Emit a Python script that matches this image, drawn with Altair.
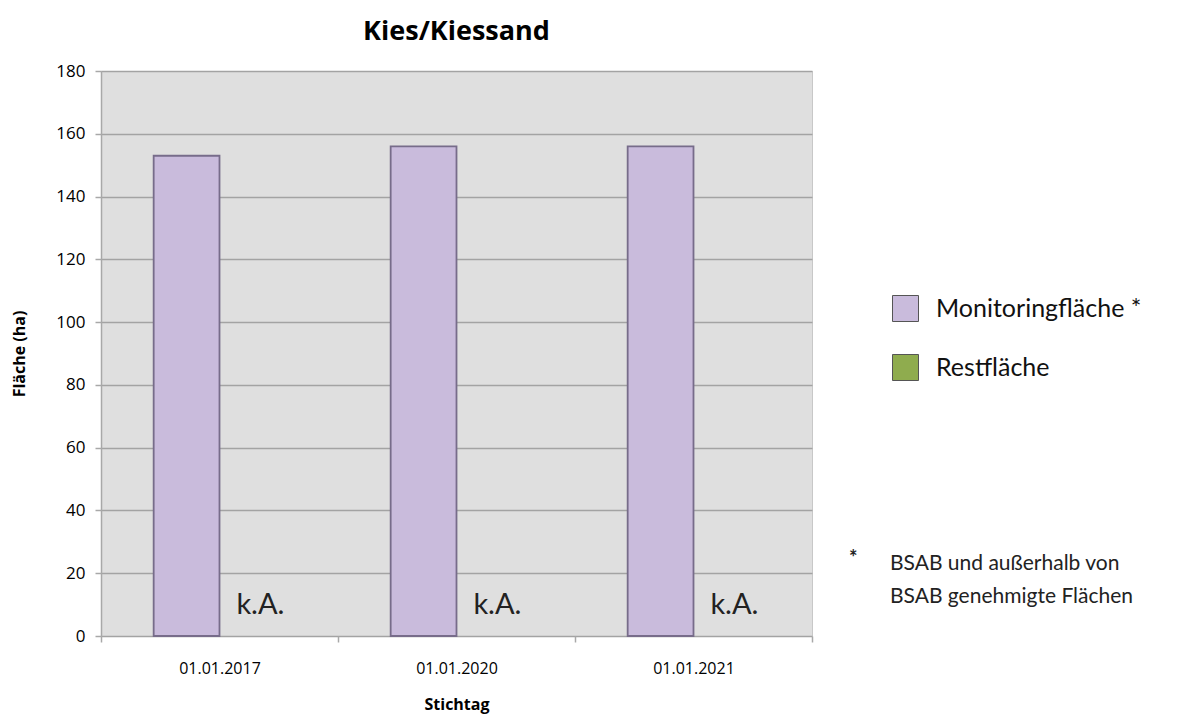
import altair as alt
import pandas as pd

dates = ["01.01.2017", "01.01.2020", "01.01.2021"]
series = ["Monitoringfläche *", "Restfläche"]
monitoring = [153, 156, 156]
rest_label = ["k.A.", "k.A.", "k.A."]
colors = ["#c9bbdc", "#8fac4e"]
footnote = "BSAB und außerhalb von\nBSAB genehmigte Flächen"

bars = pd.DataFrame({"Stichtag": dates, "Serie": series[0], "Wert": monitoring})
ka = pd.DataFrame({"Stichtag": dates, "Serie": series[1], "Text": rest_label})

x = alt.X("Stichtag:N", sort=dates,
          scale=alt.Scale(paddingInner=0, paddingOuter=0),
          axis=alt.Axis(title="Stichtag", labelAngle=0, tickBand="extent",
                        domain=False, ticks=True, tickSize=6, tickColor="#a8a8a8",
                        tickWidth=1.5, labelPadding=18, titlePadding=20,
                        labelFont="Open Sans", labelFontSize=16, labelColor="#000",
                        titleFont="Open Sans", titleFontSize=16, titleFontWeight="bold",
                        titleColor="#000"))
xoff = alt.XOffset("Serie:N", scale=alt.Scale(domain=series, paddingInner=0, paddingOuter=0.8))

color = alt.Color("Serie:N",
                  scale=alt.Scale(domain=series, range=colors),
                  legend=alt.Legend(title=None, orient="none", legendX=791, legendY=224,
                                    symbolType="square", symbolSize=676,
                                    symbolStrokeColor="#555555", symbolStrokeWidth=1,
                                    symbolOpacity=1,
                                    labelFont="Lato", labelFontSize=25, labelColor="#111",
                                    labelOffset=17, rowPadding=28, labelLimit=400))

bar = alt.Chart(bars).mark_bar(stroke="#776c8a", strokeWidth=1.8, opacity=1).encode(
    x=x,
    xOffset=xoff,
    y=alt.Y("Wert:Q", scale=alt.Scale(domain=[0, 180]),
            axis=alt.Axis(title="Fläche (ha)", values=list(range(0, 181, 20)),
                          grid=True, gridColor="#a3a3a3", gridWidth=1.5,
                          domain=True, domainColor="#a8a8a8", domainWidth=1.5,
                          tickSize=6, tickColor="#a8a8a8", tickWidth=1.5,
                          labelPadding=10, titlePadding=28,
                          labelFont="Open Sans", labelFontSize=17, labelColor="#000",
                          titleFont="Open Sans", titleFontSize=16, titleFontWeight="bold",
                          titleColor="#000")),
    color=color,
)

text = alt.Chart(ka).mark_text(font="Lato", fontSize=29, color="#222", baseline="alphabetic",
                               align="center", dx=8, dy=-22).encode(
    x=x,
    xOffset=xoff,
    y=alt.datum(0),
    text="Text:N",
)

foot = alt.Chart(pd.DataFrame({"t": [footnote]})).mark_text(
    font="Lato", fontSize=21, color="#222", align="left", baseline="top",
    lineBreak="\n", lineHeight=33).encode(
    x=alt.value(789), y=alt.value(482), text="t:N")
star = alt.Chart(pd.DataFrame({"t": ["*"]})).mark_text(
    font="Lato", fontSize=20, fontWeight="bold", color="#222", align="left", baseline="top").encode(
    x=alt.value(748), y=alt.value(478), text="t:N")

chart = alt.layer(bar, text, foot, star).properties(
    width=711, height=565,
    title=alt.Title("Kies/Kiessand", font="Open Sans", fontSize=27, fontWeight="bold",
                    color="#000", offset=16),
    autosize=alt.AutoSizeParams(type="none"),
    padding={"left": 93, "top": 63, "right": 360, "bottom": 90},
).configure(background="white").configure_view(fill="#dfdfdf", stroke="#c8c8c8", strokeWidth=1)

chart.save("out.html", embed_options={"renderer": "svg", "actions": False})
